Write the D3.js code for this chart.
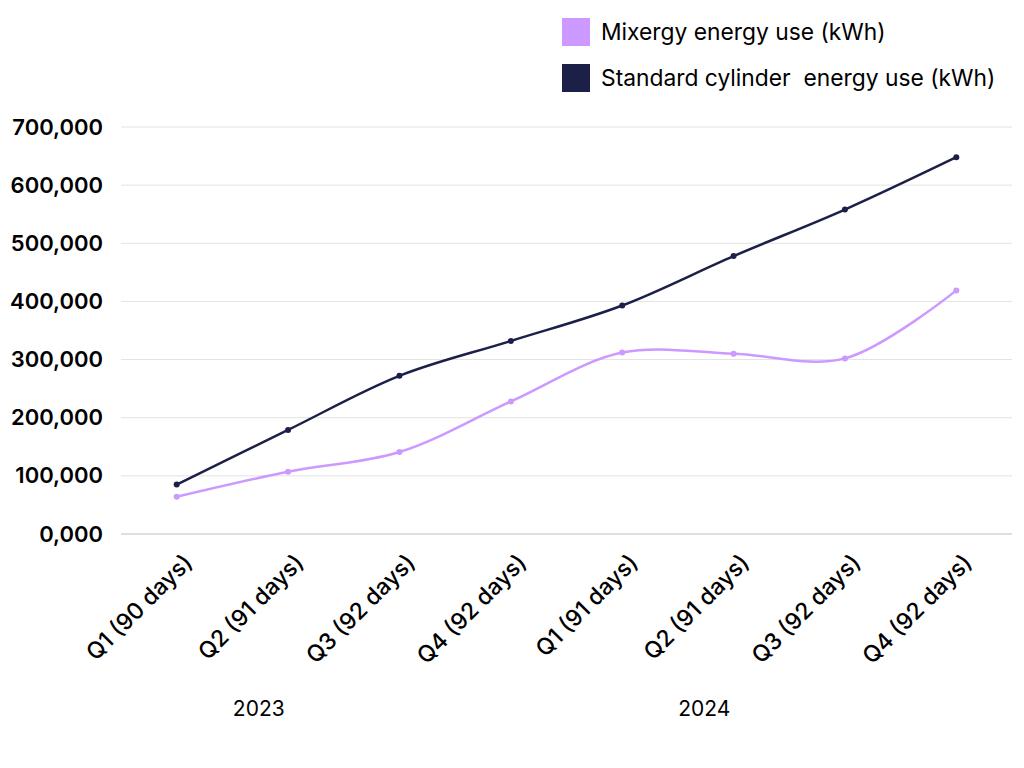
<!DOCTYPE html>
<html>
<head>
<meta charset="utf-8">
<script src="https://cdn.jsdelivr.net/npm/d3@7"></script>
<style>
  body { margin: 0; background: #fff; }
  svg { display: block; font-family: "Inter", "Noto Sans", sans-serif; }
</style>
</head>
<body>
<svg width="1024" height="768"></svg>
<script>
const categories = ['Q1 (90 days)', 'Q2 (91 days)', 'Q3 (92 days)', 'Q4 (92 days)',
                    'Q1 (91 days)', 'Q2 (91 days)', 'Q3 (92 days)', 'Q4 (92 days)'];
const years = ['2023', '2024'];
const mixergy = [64000, 107000, 141000, 228000, 312000, 310000, 302000, 419000];
const standard = [85000, 179000, 272000, 332000, 393000, 478000, 558000, 648000];
const yTicks = [0, 100000, 200000, 300000, 400000, 500000, 600000, 700000];
const seriesNames = ['Mixergy energy use (kWh)', 'Standard cylinder  energy use (kWh)'];
const colors = ['#cc99ff', '#1c2049'];

const svg = d3.select('svg');
const margin = { top: 127, right: 12, bottom: 234, left: 121 };
const width = +svg.attr('width');
const height = +svg.attr('height');
const innerWidth = width - margin.left - margin.right;
const innerHeight = height - margin.top - margin.bottom;

const idx = d3.range(categories.length);
const x = d3.scaleBand().domain(idx).range([0, innerWidth]);
const y = d3.scaleLinear().domain([0, 700000]).range([innerHeight, 0]);

const g = svg.append('g').attr('transform', `translate(${margin.left},${margin.top})`);

// gridlines
g.selectAll('.grid').data(yTicks).enter().append('line')
  .attr('x1', 0).attr('x2', innerWidth)
  .attr('y1', d => y(d)).attr('y2', d => y(d))
  .attr('stroke', d => d === 0 ? '#bfbfbf' : '#e3e3e3')
  .attr('stroke-width', 1);

// y axis labels
const yAxis = d3.axisLeft(y).tickValues(yTicks).tickSize(0).tickPadding(18)
  .tickFormat(d => d === 0 ? '0,000' : d3.format(',')(d));
g.append('g').call(yAxis)
  .call(s => s.select('.domain').remove())
  .selectAll('text')
  .attr('font-size', 22).attr('font-weight', 600).attr('fill', '#000')
  .style('font-family', 'Inter, sans-serif');

// x axis labels (rotated)
const xAxis = d3.axisBottom(x).tickSize(0).tickFormat(i => categories[i]);
g.append('g').attr('transform', `translate(0,${innerHeight})`).call(xAxis)
  .call(s => s.select('.domain').remove())
  .selectAll('text')
  .attr('font-size', 23).attr('font-weight', 500).attr('fill', '#000')
  .style('font-family', 'Inter, sans-serif')
  .attr('text-anchor', 'end')
  .attr('dy', 0).attr('y', 0)
  .attr('transform', 'translate(17,30) rotate(-45)');

// year labels
years.forEach((yr, k) => {
  const first = x(k * 4) + x.bandwidth() / 2;
  const last = x(k * 4 + 3) + x.bandwidth() / 2;
  g.append('text')
    .attr('x', (first + last) / 2 - 85)
    .attr('y', innerHeight + 182)
    .attr('text-anchor', 'middle')
    .attr('font-size', 21).attr('fill', '#000')
    .text(yr);
});

// lines
const line = d3.line()
  .x((d, i) => x(i) + x.bandwidth() / 2)
  .y(d => y(d))
  .curve(d3.curveCatmullRom.alpha(0.5));

[mixergy, standard].forEach((vals, k) => {
  g.append('path').datum(vals)
    .attr('d', line)
    .attr('fill', 'none')
    .attr('stroke', colors[k])
    .attr('stroke-width', 2.5);
  g.selectAll('.pt' + k).data(vals).enter().append('circle')
    .attr('cx', (d, i) => x(i) + x.bandwidth() / 2)
    .attr('cy', d => y(d))
    .attr('r', 3)
    .attr('fill', colors[k]);
});

// legend
const legend = svg.append('g').attr('transform', 'translate(562,18)');
seriesNames.forEach((name, k) => {
  legend.append('rect')
    .attr('x', 0).attr('y', k * 46)
    .attr('width', 28).attr('height', 28)
    .attr('fill', colors[k]);
  legend.append('text')
    .attr('x', 39).attr('y', k * 46 + 14)
    .attr('dy', '0.35em')
    .attr('font-size', 22.8).attr('fill', '#000')
    .style('white-space', 'pre')
    .text(name);
});
</script>
</body>
</html>
